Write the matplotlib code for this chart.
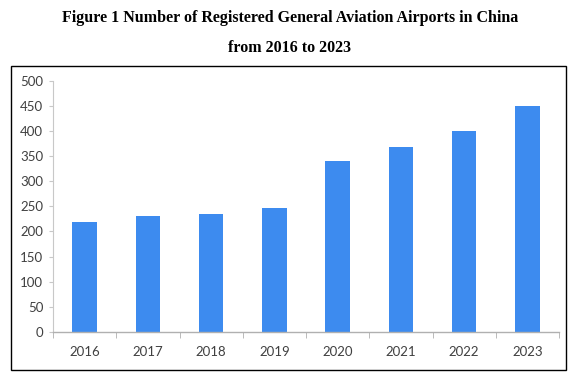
import matplotlib.pyplot as plt
import numpy as np
from matplotlib.patches import Rectangle

years = ['2016', '2017', '2018', '2019', '2020', '2021', '2022', '2023']
airports = [218, 230, 235, 247, 340, 368, 400, 450]
yticks = [0, 50, 100, 150, 200, 250, 300, 350, 400, 450, 500]

title_1 = 'Figure 1 Number of Registered General Aviation Airports in China'
title_2 = 'from 2016 to 2023'

fig = plt.figure(figsize=(5.8, 3.75), dpi=100)

# outer frame around the chart
fig.patches.append(Rectangle((0.019, 0.0133), 0.957, 0.8107, transform=fig.transFigure,
                             fill=False, edgecolor='black', linewidth=1.0))

fig.text(0.5, 0.953, title_1, ha='center', va='center', fontsize=11.5,
         fontweight='bold', family='Liberation Serif')
fig.text(0.5, 0.872, title_2, ha='center', va='center', fontsize=11.5,
         fontweight='bold', family='Liberation Serif')

ax = fig.add_axes([0.0914, 0.1147, 0.8724, 0.6701])
x = np.arange(len(years))
ax.bar(x, airports, width=0.39, color='#3d8bef')

ax.set_xlim(-0.5, len(years) - 0.5)
ax.set_ylim(0, 500)
ax.set_yticks(yticks)
ax.set_xticks(x)
ax.set_xticklabels(years)
ax.set_xticks(np.arange(len(years) + 1) - 0.5, minor=True)

for s in ['top', 'right']:
    ax.spines[s].set_visible(False)
ax.spines['left'].set_color('#c8c8c8')
ax.spines['bottom'].set_color('#b0b0b0')
ax.spines['left'].set_linewidth(0.8)
ax.spines['bottom'].set_linewidth(1.0)

ax.tick_params(axis='x', which='major', length=0, pad=10)
ax.tick_params(axis='x', which='minor', length=4, color='#b0b0b0', direction='out')
ax.tick_params(axis='y', length=3, color='#c8c8c8', pad=4)
for lab in ax.get_xticklabels() + ax.get_yticklabels():
    lab.set_family('Lato')
    lab.set_fontsize(9.5)
    lab.set_color('#404040')

fig.savefig('out.png', dpi=100)
